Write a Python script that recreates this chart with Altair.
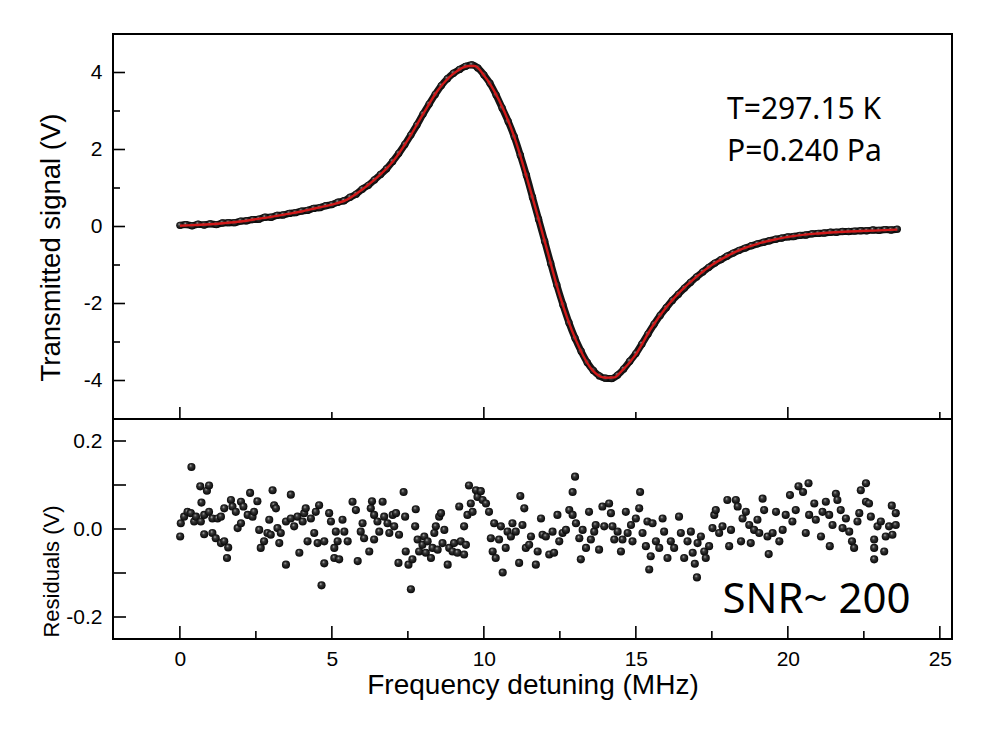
import altair as alt
import pandas as pd

# ---------------- data ----------------
# measured signal (top panel), MHz / V
sig_x = [0.0, 0.2, 0.4, 0.6, 0.8, 1.0, 1.2, 1.4, 1.6, 1.8, 2.0, 2.2, 2.4, 2.6, 2.8, 3.0,
         3.2, 3.4, 3.6, 3.8, 4.0, 4.2, 4.4, 4.6, 4.8, 5.0, 5.2, 5.4, 5.6, 5.8, 6.0, 6.2,
         6.4, 6.6, 6.8, 7.0, 7.2, 7.4, 7.6, 7.8, 8.0, 8.2, 8.4, 8.6, 8.8, 9.0, 9.2, 9.4,
         9.6, 9.8, 10.0, 10.2, 10.4, 10.6, 10.8, 11.0, 11.2, 11.4, 11.6, 11.8, 12.0, 12.2,
         12.4, 12.6, 12.8, 13.0, 13.2, 13.4, 13.6, 13.8, 14.0, 14.2, 14.4, 14.6, 14.8, 15.0,
         15.2, 15.4, 15.6, 15.8, 16.0, 16.2, 16.4, 16.6, 16.8, 17.0, 17.2, 17.4, 17.6, 17.8,
         18.0, 18.2, 18.4, 18.6, 18.8, 19.0, 19.2, 19.4, 19.6, 19.8, 20.0, 20.2, 20.4, 20.6,
         20.8, 21.0, 21.2, 21.4, 21.6, 21.8, 22.0, 22.2, 22.4, 22.6, 22.8, 23.0, 23.2, 23.4,
         23.6]
sig_y = [0.03, 0.05, 0.02, 0.06, 0.04, 0.07, 0.05, 0.09, 0.10, 0.10, 0.14, 0.15, 0.18, 0.19,
         0.24, 0.24, 0.29, 0.30, 0.34, 0.36, 0.40, 0.42, 0.47, 0.49, 0.54, 0.57, 0.63, 0.67,
         0.76, 0.84, 0.97, 1.07, 1.21, 1.35, 1.50, 1.69, 1.90, 2.13, 2.38, 2.64, 2.92, 3.18,
         3.43, 3.66, 3.84, 3.98, 4.08, 4.16, 4.20, 4.12, 3.94, 3.72, 3.42, 3.08, 2.73, 2.33,
         1.85, 1.33, 0.76, 0.19, -0.38, -0.96, -1.52, -2.03, -2.50, -2.90, -3.24, -3.53,
         -3.74, -3.88, -3.94, -3.95, -3.86, -3.70, -3.50, -3.30, -3.05, -2.79, -2.54, -2.31,
         -2.11, -1.92, -1.76, -1.60, -1.45, -1.31, -1.18, -1.06, -0.95, -0.86, -0.77, -0.69,
         -0.62, -0.56, -0.50, -0.45, -0.41, -0.37, -0.33, -0.30, -0.27, -0.26, -0.23, -0.22,
         -0.19, -0.18, -0.17, -0.15, -0.15, -0.13, -0.13, -0.12, -0.11, -0.11, -0.09, -0.10,
         -0.08, -0.09, -0.07]

# fitted curve (red line)
fit_x = [0.0, 0.5, 1.0, 1.5, 2.0, 2.5, 3.0, 3.5, 4.0, 4.5, 5.0, 5.5, 6.0, 6.5, 7.0, 7.5,
         8.0, 8.5, 9.0, 9.5, 9.7, 10.0, 10.5, 11.0, 11.5, 12.0, 12.5, 13.0, 13.5, 14.0,
         14.3, 14.5, 15.0, 15.5, 16.0, 16.5, 17.0, 17.5, 18.0, 18.5, 19.0, 19.5, 20.0,
         21.0, 22.0, 23.0, 23.6]
fit_y = [0.02, 0.04, 0.06, 0.09, 0.13, 0.19, 0.25, 0.32, 0.39, 0.48, 0.57, 0.70, 0.96,
         1.28, 1.68, 2.25, 2.92, 3.55, 3.97, 4.17, 4.17, 3.93, 3.28, 2.33, 1.03, -0.38,
         -1.80, -2.90, -3.66, -3.93, -3.92, -3.78, -3.32, -2.65, -2.10, -1.66, -1.30, -1.00,
         -0.77, -0.58, -0.45, -0.35, -0.27, -0.18, -0.13, -0.10, -0.08]

# residuals (bottom panel)
res_x = [0.01, 0.03, 0.14, 0.25, 0.36, 0.38, 0.47, 0.53, 0.67, 0.69, 0.71, 0.80, 0.80, 0.89,
         0.96, 0.96, 1.07, 1.07, 1.18, 1.24, 1.35, 1.35, 1.46, 1.46, 1.55, 1.59, 1.68, 1.73,
         1.84, 1.90, 2.01, 2.01, 2.09, 2.23, 2.31, 2.39, 2.44, 2.55, 2.61, 2.66, 2.77, 2.88,
         2.94, 2.99, 3.05, 3.10, 3.16, 3.21, 3.27, 3.32, 3.49, 3.49, 3.65, 3.65, 3.76, 3.87,
         3.93, 4.04, 4.09, 4.14, 4.20, 4.31, 4.42, 4.47, 4.53, 4.58, 4.66, 4.75, 4.75, 4.91,
         4.97, 5.08, 5.08, 5.13, 5.19, 5.24, 5.35, 5.41, 5.52, 5.68, 5.79, 5.85, 5.95, 6.01,
         6.06, 6.23, 6.28, 6.32, 6.39, 6.39, 6.50, 6.56, 6.67, 6.72, 6.83, 6.89, 7.00, 7.05,
         7.11, 7.19, 7.21, 7.36, 7.41, 7.43, 7.52, 7.60, 7.65, 7.74, 7.76, 7.82, 7.87, 7.98,
         8.04, 8.09, 8.15, 8.26, 8.31, 8.37, 8.42, 8.48, 8.53, 8.59, 8.64, 8.70, 8.81, 8.86,
         8.97, 9.02, 9.13, 9.19, 9.24, 9.35, 9.35, 9.41, 9.46, 9.51, 9.57, 9.63, 9.74, 9.79,
         9.90, 9.96, 10.07, 10.17, 10.23, 10.29, 10.34, 10.39, 10.50, 10.56, 10.62, 10.72,
         10.78, 10.89, 10.94, 11.05, 11.16, 11.20, 11.27, 11.33, 11.38, 11.49, 11.55, 11.71,
         11.77, 11.88, 11.93, 12.04, 12.15, 12.26, 12.31, 12.42, 12.48, 12.59, 12.70, 12.81,
         12.92, 12.92, 13.00, 13.03, 13.14, 13.19, 13.25, 13.36, 13.46, 13.52, 13.63, 13.68,
         13.79, 13.90, 13.96, 14.12, 14.18, 14.23, 14.29, 14.40, 14.51, 14.56, 14.67, 14.73,
         14.84, 14.89, 15.00, 15.11, 15.14, 15.22, 15.33, 15.38, 15.44, 15.49, 15.55, 15.66,
         15.77, 15.88, 15.93, 16.04, 16.15, 16.26, 16.42, 16.48, 16.59, 16.70, 16.81, 16.87,
         16.94, 17.01, 17.03, 17.14, 17.25, 17.30, 17.41, 17.52, 17.58, 17.63, 17.74, 17.85,
         18.01, 18.07, 18.13, 18.29, 18.35, 18.46, 18.51, 18.62, 18.73, 18.78, 18.89, 19.00,
         19.06, 19.17, 19.22, 19.33, 19.37, 19.50, 19.61, 19.72, 19.83, 19.93, 20.07, 20.15,
         20.26, 20.35, 20.50, 20.59, 20.68, 20.70, 20.87, 20.92, 21.09, 21.14, 21.25, 21.36,
         21.38, 21.47, 21.58, 21.63, 21.74, 21.80, 21.91, 22.02, 22.11, 22.18, 22.29, 22.35,
         22.40, 22.57, 22.57, 22.67, 22.73, 22.84, 22.84, 22.84, 22.95, 23.06, 23.17, 23.22,
         23.33, 23.42, 23.44, 23.55, 23.55]
res_y = [-0.017, 0.013, 0.028, 0.039, 0.036, 0.141, 0.017, 0.028, 0.097, 0.017, 0.060, 0.032,
         -0.012, 0.087, 0.099, 0.039, 0.024, -0.009, -0.021, 0.024, 0.028, -0.032, 0.047, -0.028,
         -0.066, -0.042, 0.066, 0.051, 0.039, 0.002, 0.062, 0.013, 0.051, 0.032, 0.082, 0.028,
         0.039, 0.063, -0.002, -0.043, -0.028, -0.009, 0.021, -0.013, 0.088, 0.054, 0.047, 0.002,
         -0.032, -0.009, -0.081, 0.017, 0.078, 0.024, 0.006, 0.028, -0.054, 0.017, 0.036, 0.047,
         -0.028, 0.024, -0.009, 0.039, -0.032, 0.054, -0.128, -0.078, -0.028, 0.036, 0.017,
         -0.043, -0.066, -0.006, -0.028, -0.069, 0.021, -0.006, -0.028, 0.062, 0.043, -0.073,
         -0.006, 0.013, -0.021, -0.051, 0.047, 0.063, 0.032, -0.024, 0.017, -0.006, 0.062, 0.028,
         0.013, -0.009, 0.032, 0.006, 0.036, -0.077, -0.013, 0.084, 0.028, -0.051, -0.081, -0.137,
         -0.069, 0.006, 0.045, -0.024, -0.051, -0.036, -0.017, -0.054, -0.028, -0.066, -0.043,
         -0.009, 0.006, -0.047, 0.028, 0.036, -0.032, -0.002, -0.081, -0.043, -0.051, -0.032,
         -0.054, 0.051, -0.028, 0.006, -0.058, -0.036, 0.032, 0.099, 0.058, 0.039, 0.088, 0.073,
         0.086, 0.066, 0.058, 0.039, -0.021, -0.051, 0.013, -0.066, -0.024, 0.006, -0.099, -0.043,
         -0.006, -0.017, 0.013, -0.006, -0.077, 0.075, 0.009, 0.047, -0.043, -0.036, -0.017,
         -0.081, -0.051, 0.024, -0.013, -0.017, -0.058, -0.006, -0.054, 0.032, -0.028, -0.009,
         -0.002, 0.043, 0.032, 0.084, 0.119, 0.013, -0.021, -0.069, -0.002, -0.043, 0.039, -0.024,
         -0.006, 0.009, -0.047, 0.051, 0.006, 0.058, 0.036, 0.006, -0.024, -0.006, -0.051, -0.024,
         0.039, -0.009, 0.009, -0.028, 0.024, 0.047, 0.084, -0.009, -0.039, 0.017, -0.092, -0.062,
         0.013, -0.028, -0.043, 0.024, -0.006, -0.066, -0.028, -0.043, 0.028, -0.009, -0.066,
         -0.028, -0.006, -0.054, -0.079, -0.110, -0.032, -0.017, -0.051, -0.066, -0.039, 0.002,
         0.032, 0.043, -0.009, 0.006, 0.066, -0.039, -0.002, 0.066, 0.051, -0.028, 0.024, 0.039,
         0.009, -0.032, -0.002, 0.021, -0.009, 0.069, 0.043, -0.017, -0.057, -0.009, 0.039,
         -0.028, -0.002, 0.032, 0.077, 0.017, 0.043, 0.097, 0.084, -0.009, 0.104, 0.032, 0.058,
         0.021, -0.017, 0.039, 0.062, 0.032, -0.039, 0.009, 0.080, 0.066, 0.043, 0.002, 0.024,
         -0.006, -0.028, -0.043, 0.017, 0.036, 0.088, 0.104, 0.062, 0.058, 0.028, -0.024, -0.043,
         -0.069, 0.006, 0.017, -0.051, -0.017, 0.006, 0.053, -0.013, 0.036, 0.009]

# axis ticks and labels
x_major = [0, 5, 10, 15, 20, 25]
x_minor = [2.5, 7.5, 12.5, 17.5, 22.5]
top_x_major = [0, 10, 20]
top_x_minor = [5, 15, 25]
top_y_major = [-4, -2, 0, 2, 4]
top_y_minor = [-3, -1, 1, 3]
res_y_ticks = [-0.2, -0.1, 0.0, 0.1, 0.2]
res_y_labels = [-0.2, 0.0, 0.2]

notes_top = ["T=297.15 K", "P=0.240 Pa"]
notes_top_x = [18.0, 18.0]
notes_top_y = [2.78, 1.71]
note_bottom = ["SNR~ 200"]
note_bottom_x = [17.85]
note_bottom_y = [-0.192]

# ---------------- chart ----------------
W, H_TOP, H_BOT = 839, 385, 220
XDOM = [-2.2, 25.4]
xs = alt.Scale(domain=XDOM, nice=False, zero=False)
ys_top = alt.Scale(domain=[-5.0, 5.0], nice=False, zero=False)
ys_bot = alt.Scale(domain=[-0.25, 0.25], nice=False, zero=False)

LABEL_FONT = "Liberation Sans"
NOTE_FONT = "Noto Sans"
HYPHEN = "replace(format(datum.value, '{f}'), '\u2212', '-')"

ball = alt.RadialGradient(
    gradient="radial",
    stops=[alt.GradientStop(offset=0, color="#c8c8c8"),
           alt.GradientStop(offset=0.3, color="#3a3a3a"),
           alt.GradientStop(offset=1, color="#000000")],
    x1=0.38, y1=0.32, r1=0.0, x2=0.5, y2=0.5, r2=0.55,
)

sig_df = pd.DataFrame({"x": sig_x, "y": sig_y})
fit_df = pd.DataFrame({"x": fit_x, "y": fit_y})
res_df = pd.DataFrame({"x": res_x, "y": res_y})

# --- top panel ---
x_top_enc = alt.X("x:Q", scale=xs, axis=None)

band = alt.Chart(sig_df).mark_line(color="#151515", strokeWidth=7, interpolate="monotone").encode(
    x=x_top_enc, y=alt.Y("y:Q", scale=ys_top, axis=alt.Axis(
        title="Transmitted signal (V)", values=top_y_major, ticks=False, domain=False, grid=False,
        labelExpr=HYPHEN.format(f="d"),
        labelFont=LABEL_FONT, labelFontSize=21, labelColor="black", labelPadding=11,
        titleFont=LABEL_FONT, titleFontSize=27.5, titleFontWeight="normal", titleColor="black",
        titleX=-62, titleY=213, titleBaseline="middle")))
dots = alt.Chart(sig_df).mark_circle(size=54, opacity=1, color=ball).encode(
    x=x_top_enc, y=alt.Y("y:Q", scale=ys_top))
fit = alt.Chart(fit_df).mark_line(color="#d11919", strokeWidth=2.4, interpolate="monotone").encode(
    x=x_top_enc, y=alt.Y("y:Q", scale=ys_top))

def xticks(vals, H, L):
    return alt.Chart(pd.DataFrame({"t": vals})).mark_rule(color="black", strokeWidth=1.6).encode(
        x=alt.X("t:Q", scale=xs), y=alt.value(H), y2=alt.value(H - L))

def yticks(vals, L, scale_y):
    return alt.Chart(pd.DataFrame({"t": vals})).mark_rule(color="black", strokeWidth=1.6).encode(
        y=alt.Y("t:Q", scale=scale_y), x=alt.value(0), x2=alt.value(L))

notes_df = pd.DataFrame({"x": notes_top_x, "y": notes_top_y, "t": notes_top})
notes = alt.Chart(notes_df).mark_text(font=NOTE_FONT, fontSize=30, align="left", baseline="alphabetic",
                                      color="black").encode(
    x=alt.X("x:Q", scale=xs), y=alt.Y("y:Q", scale=ys_top), text="t:N")

top = alt.layer(
    band, dots, fit, notes,
    xticks(top_x_major, H_TOP, 12), xticks(top_x_minor, H_TOP, 7),
    yticks(top_y_major, 12, ys_top), yticks(top_y_minor, 7, ys_top),
).properties(width=W, height=H_TOP)

# --- bottom panel ---
res_pts = alt.Chart(res_df).mark_circle(size=66, opacity=1, color=ball).encode(
    x=alt.X("x:Q", scale=xs, axis=alt.Axis(
        title="Frequency detuning (MHz)", values=x_major, ticks=False, domain=False, grid=False,
        labelFont=LABEL_FONT, labelFontSize=21, labelColor="black", labelPadding=9,
        titleFont=LABEL_FONT, titleFontSize=28, titleFontWeight="normal", titleColor="black",
        titlePadding=2)),
    y=alt.Y("y:Q", scale=ys_bot, axis=alt.Axis(
        title="Residuals (V)", values=res_y_labels, labelExpr=HYPHEN.format(f=".1f"),
        ticks=False, domain=False, grid=False,
        labelFont=LABEL_FONT, labelFontSize=21, labelColor="black", labelPadding=11,
        titleFont=LABEL_FONT, titleFontSize=22, titleFontWeight="normal", titleColor="black",
        titleX=-62, titleY=152, titleBaseline="middle")))

snr_df = pd.DataFrame({"x": note_bottom_x, "y": note_bottom_y, "t": note_bottom})
snr = alt.Chart(snr_df).mark_text(font=NOTE_FONT, fontSize=42, align="left", baseline="alphabetic",
                                  color="black").encode(
    x=alt.X("x:Q", scale=xs), y=alt.Y("y:Q", scale=ys_bot), text="t:N")

bottom = alt.layer(
    res_pts, snr,
    xticks(x_major, H_BOT, 13), xticks(x_minor, H_BOT, 8),
    yticks(res_y_ticks, 13, ys_bot),
).properties(width=W, height=H_BOT)

chart = alt.vconcat(top, bottom, spacing=0, bounds="flush").configure(
    background="white",
    padding={"left": 36, "top": 33, "right": 10, "bottom": 10},
).configure_view(stroke="black", strokeWidth=2)

chart.save("out.html", embed_options={"renderer": "svg", "actions": False})
